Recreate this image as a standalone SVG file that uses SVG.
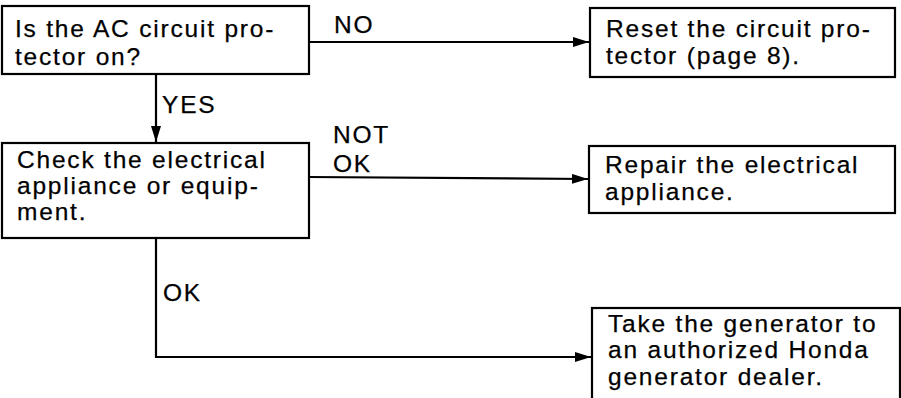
<svg xmlns="http://www.w3.org/2000/svg" width="901" height="398" viewBox="0 0 901 398">
<style>
.box{fill:#fff;stroke:#000;stroke-width:2.2}
.t{font-family:"Liberation Sans",Arial,sans-serif;font-size:24.5px;letter-spacing:1.8px;fill:#000;stroke:#000;stroke-width:0.25}
.c{fill:none;stroke:#000;stroke-width:2.2}
</style>
<defs>
<marker id="ah" markerUnits="userSpaceOnUse" markerWidth="16" markerHeight="10" refX="16" refY="5" orient="auto">
<path d="M0,0 L16,5 L0,10 Z" fill="#000"/>
</marker>
</defs>
<rect width="901" height="398" fill="#fff"/>
<g id="connectors">
<path class="c" d="M309,42 H589" marker-end="url(#ah)"/>
<path class="c" d="M156,74 V142" marker-end="url(#ah)"/>
<path class="c" d="M309,177 L588,179" marker-end="url(#ah)"/>
<path class="c" d="M156,238 V357 H591" marker-end="url(#ah)"/>
<text class="t" x="334" y="33">NO</text>
<text class="t" x="162" y="113">YES</text>
<text class="t" x="333" y="143">NOT</text>
<text class="t" x="333" y="172">OK</text>
<text class="t" x="163" y="301">OK</text>
</g>
<g id="q1">
<rect class="box" x="2" y="6" width="307" height="68"/>
<text class="t" x="15" y="37">Is the AC circuit pro-</text>
<text class="t" x="15" y="65">tector on?</text>
</g>
<g id="reset">
<rect class="box" x="590" y="8" width="305" height="69"/>
<text class="t" x="606" y="37">Reset the circuit pro-</text>
<text class="t" x="606" y="64">tector (page 8).</text>
</g>
<g id="check">
<rect class="box" x="2" y="143" width="307" height="95"/>
<text class="t" x="17" y="168">Check the electrical</text>
<text class="t" x="17" y="194">appliance or equip-</text>
<text class="t" x="17" y="220">ment.</text>
</g>
<g id="repair">
<rect class="box" x="589" y="146" width="306" height="67"/>
<text class="t" x="605" y="173">Repair the electrical</text>
<text class="t" x="605" y="200">appliance.</text>
</g>
<g id="take">
<rect class="box" x="592" y="308" width="308" height="110"/>
<text class="t" x="608" y="332">Take the generator to</text>
<text class="t" x="608" y="358">an authorized Honda</text>
<text class="t" x="608" y="385">generator dealer.</text>
</g>
</svg>
